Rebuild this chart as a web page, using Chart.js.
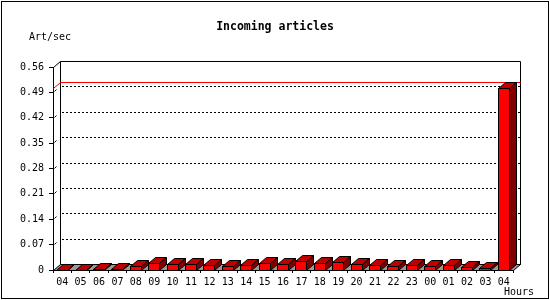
<!DOCTYPE html>
<html><head><meta charset="utf-8">
<script src="https://cdn.jsdelivr.net/npm/chart.js@4/dist/chart.umd.min.js"></script>
<style>html,body{margin:0;padding:0;background:#fff}#wrap{width:550px;height:300px;position:relative}</style>
</head><body><div id="wrap"><canvas id="c" width="550" height="300"></canvas></div>
<script>
const hours = ['04','05','06','07','08','09','10','11','12','13','14','15','16','17','18','19','20','21','22','23','00','01','02','03','04'];
const articlesPerSec = [0.001,0.001,0.004,0.004,0.011,0.018,0.017,0.017,0.013,0.011,0.013,0.019,0.016,0.026,0.018,0.022,0.017,0.013,0.010,0.013,0.010,0.013,0.007,0.005,0.502];
const yTickValues = [0,0.07,0.14,0.21,0.28,0.35,0.42,0.49,0.56];
const titleText = 'Incoming articles';
const yAxisTitle = 'Art/sec';
const xAxisTitle = 'Hours';

const DX = 7, DY = 6;
const FONT = 'DejaVu Sans Mono';

const jp3d = {
  id: 'jp3d',
  beforeDraw(chart) {
    const ctx = chart.ctx;
    ctx.save(); ctx.fillStyle = '#fff'; ctx.fillRect(0, 0, chart.width, chart.height); ctx.restore();
  },
  beforeDatasetsDraw(chart) {
    const {ctx, chartArea, scales} = chart;
    const y = scales.y;
    const L = Math.round(chartArea.left), R = Math.round(chartArea.right);
    const T = Math.round(chartArea.top), B = Math.round(chartArea.bottom);
    ctx.save();
    ctx.lineWidth = 1; ctx.strokeStyle = '#000';
    // back plane
    ctx.fillStyle = '#fff';
    ctx.beginPath(); ctx.rect(L + DX + 0.5, T - DY + 0.5, R - L, B - T); ctx.fill(); ctx.stroke();
    // dotted grid lines on back plane
    ctx.setLineDash([2, 2]);
    yTickValues.forEach((v, i) => {
      if (i === 0 || i === yTickValues.length - 1) return;
      const py = Math.round(y.getPixelForValue(v)) - DY + 0.5;
      ctx.beginPath(); ctx.moveTo(L + DX + 2, py); ctx.lineTo(R + DX, py); ctx.stroke();
    });
    ctx.setLineDash([]);
    // diagonal ticks
    yTickValues.forEach((v, i) => {
      const py = Math.round(y.getPixelForValue(v));
      ctx.beginPath();
      if (i === yTickValues.length - 1) {
        ctx.moveTo(L + 0.5, py + 0.5); ctx.lineTo(L + DX + 0.5, py - DY + 0.5);
      } else if (i > 0) {
        ctx.moveTo(L + 1.5, py - 0.5); ctx.lineTo(L + 3.5, py - 2.5);
      }
      ctx.stroke();
    });
    // max line
    const maxV = Math.max(...articlesPerSec);
    const my = Math.round(y.getPixelForValue(maxV));
    ctx.strokeStyle = '#ff0000';
    ctx.beginPath();
    ctx.moveTo(L + 0.5, my + 0.5); ctx.lineTo(L + DX + 0.5, my - DY + 0.5); ctx.lineTo(R + DX + 0.5, my - DY + 0.5);
    ctx.stroke();
    // floor
    ctx.strokeStyle = '#000';
    ctx.fillStyle = '#999999';
    ctx.beginPath();
    ctx.moveTo(L + 0.5, B + 0.5); ctx.lineTo(R + 0.5, B + 0.5);
    ctx.lineTo(R + DX + 0.5, B - DY + 0.5); ctx.lineTo(L + DX + 0.5, B - DY + 0.5);
    ctx.closePath(); ctx.fill(); ctx.stroke();
    ctx.restore();
  },
  afterDatasetsDraw(chart) {
    const ctx = chart.ctx;
    const meta = chart.getDatasetMeta(0);
    ctx.save();
    ctx.lineWidth = 1; ctx.strokeStyle = '#000';
    meta.data.forEach(el => {
      const p = el.getProps(['x', 'y', 'base', 'width'], true);
      const l = Math.floor(p.x - p.width / 2) + 0.5;
      const r = Math.ceil(p.x + p.width / 2) - 0.5;
      const t = Math.round(p.y) + 0.5;
      const b = Math.round(p.base) + 0.5;
      // front
      ctx.fillStyle = '#ff0000';
      ctx.beginPath(); ctx.rect(l, t, r - l, b - t); ctx.fill(); ctx.stroke();
      // top
      ctx.fillStyle = '#c00000';
      ctx.beginPath();
      ctx.moveTo(l, t); ctx.lineTo(l + DX, t - DY); ctx.lineTo(r + DX, t - DY); ctx.lineTo(r, t);
      ctx.closePath(); ctx.fill(); ctx.stroke();
      // side
      ctx.fillStyle = '#800000';
      ctx.beginPath();
      ctx.moveTo(r, t); ctx.lineTo(r + DX, t - DY); ctx.lineTo(r + DX, b - DY); ctx.lineTo(r, b);
      ctx.closePath(); ctx.fill(); ctx.stroke();
    });
    ctx.restore();
  },
  afterDraw(chart) {
    const ctx = chart.ctx;
    ctx.save();
    ctx.fillStyle = '#000';
    ctx.textBaseline = 'middle';
    ctx.font = 'bold 11.5px "' + FONT + '"';
    ctx.textAlign = 'center';
    ctx.fillText(titleText, 275, 27);
    ctx.font = '10px "' + FONT + '"';
    ctx.textAlign = 'left';
    ctx.fillText(yAxisTitle, 29, 37);
    ctx.fillText(xAxisTitle, 504, 292);
    ctx.strokeStyle = '#000'; ctx.lineWidth = 1;
    ctx.strokeRect(1.5, 1.5, 547, 297);
    ctx.restore();
  }
};

const tickFont = {family: FONT, size: 10};

new Chart(document.getElementById('c'), {
  type: 'bar',
  data: {
    labels: hours,
    datasets: [{
      data: articlesPerSec,
      backgroundColor: '#ff0000',
      borderWidth: 0,
      categoryPercentage: 1,
      barPercentage: 0.6
    }]
  },
  options: {
    responsive: false,
    animation: false,
    devicePixelRatio: 1,
    layout: {padding: {left: 0, top: 67, right: 37, bottom: 0}},
    plugins: {legend: {display: false}, tooltip: {enabled: false}, title: {display: false}},
    scales: {
      x: {
        type: 'category',
        offset: true,
        grid: {display: true, drawOnChartArea: false, drawTicks: true, tickLength: 3, color: '#000', offset: true},
        border: {display: true, color: '#000'},
        ticks: {font: tickFont, color: '#000', padding: 3, maxRotation: 0, autoSkip: false},
        afterFit: s => { s.height = 30; }
      },
      y: {
        min: 0, max: 0.56,
        afterBuildTicks: s => { s.ticks = yTickValues.map(v => ({value: v})); },
        grid: {display: true, drawOnChartArea: false, drawTicks: true, tickLength: 4, color: '#000'},
        border: {display: true, color: '#000'},
        ticks: {font: tickFont, color: '#000', padding: 5, callback: v => v === 0 ? '0' : Number(v).toFixed(2)},
        afterFit: s => { s.width = 53; }
      }
    }
  },
  plugins: [jp3d]
});
</script>
</body></html>
